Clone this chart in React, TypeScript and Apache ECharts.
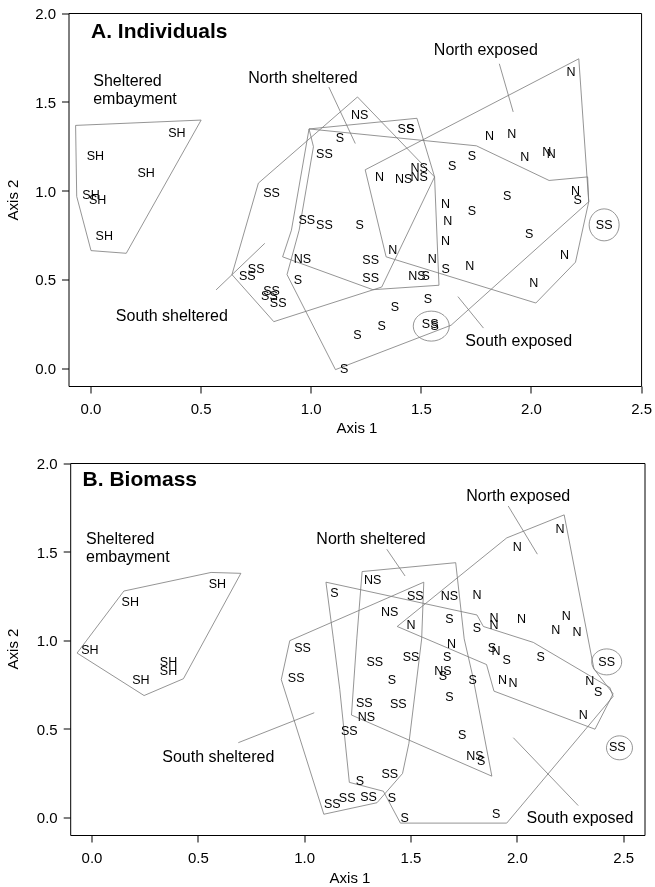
import React, { useEffect, useRef } from "react";
import * as echarts from "echarts";

const FONT = "'Liberation Sans', Arial, Helvetica, sans-serif";
const GRAY = "#7a7a7a";

// ---------- Panel A: Individuals ----------
const aSH = [[0.39,1.33],[0.02,1.20],[0.25,1.10],[0.00,0.98],[0.03,0.95],[0.06,0.75]];
const aSS = [[0.82,0.99],[1.06,1.21],[1.43,1.35],[0.98,0.84],[1.06,0.81],[1.27,0.61],[1.27,0.51],[0.75,0.56],[0.71,0.52],[0.82,0.44],[0.81,0.41],[0.85,0.37],[1.54,0.25],[2.33,0.81]];
const aNS = [[1.22,1.43],[1.42,1.07],[1.49,1.13],[1.49,1.08],[0.96,0.62],[1.48,0.52]];
const aN = [[2.18,1.67],[1.81,1.31],[1.91,1.32],[1.97,1.19],[2.07,1.22],[2.09,1.21],[2.20,1.00],[1.31,1.08],[1.61,0.93],[1.62,0.83],[1.61,0.72],[2.15,0.64],[2.01,0.48],[1.72,0.58],[1.55,0.62],[1.37,0.67]];
const aS = [[1.45,1.35],[1.13,1.30],[1.73,1.20],[1.64,1.14],[2.21,0.95],[1.89,0.97],[1.73,0.89],[1.99,0.76],[1.22,0.81],[0.94,0.50],[1.61,0.56],[1.52,0.52],[1.53,0.39],[1.38,0.35],[1.32,0.24],[1.21,0.19],[1.56,0.24],[1.15,0.00]];

const aHullSH = [[-0.07,1.37],[0.50,1.40],[0.16,0.65],[0.00,0.665],[-0.065,0.97]];
const aHullSS = [[1.21,1.53],[1.56,1.08],[1.32,0.46],[0.83,0.265],[0.64,0.53],[0.76,1.045]];
const aHullNS = [[0.99,1.35],[1.48,1.41],[1.56,1.08],[1.58,0.47],[1.28,0.445],[0.87,0.63],[0.91,0.78]];
const aHullS = [[0.99,1.35],[1.75,1.255],[2.08,1.06],[2.255,1.08],[2.26,0.94],[1.635,0.245],[1.11,-0.005],[0.89,0.53],[0.945,0.78],[1.01,1.25]];
const aHullN = [[1.245,1.12],[2.215,1.745],[2.26,0.94],[2.20,0.60],[2.02,0.37],[1.34,0.63]];

const aCircles = [[2.33,0.81],[1.545,0.24]];
const aLeaders = [
  [[1.08,1.586],[1.20,1.268]],
  [[1.854,1.717],[1.917,1.446]],
  [[0.568,0.444],[0.789,0.706]],
  [[1.666,0.406],[1.782,0.229]],
];
const aNoteText = ["North sheltered","North exposed","South sheltered","South exposed"];
const aNotePos = [[0.962,1.642],[1.793,1.796],[0.367,0.298],[1.942,0.159]];
const aEmbText = ["Sheltered","embayment"];
const aEmbPos = [[0.01,1.624],[0.01,1.522]];
const aTitle = "A. Individuals";
const aTitlePos = [[0.0,1.904]];

// ---------- Panel B: Biomass ----------
const bSH = [[0.59,1.32],[0.18,1.22],[-0.01,0.95],[0.23,0.78],[0.36,0.88],[0.36,0.83]];
const bSS = [[1.52,1.25],[0.99,0.96],[0.96,0.79],[1.33,0.88],[1.50,0.91],[1.28,0.65],[1.44,0.64],[1.21,0.49],[1.40,0.25],[1.13,0.08],[1.20,0.11],[1.30,0.12],[2.42,0.88],[2.47,0.40]];
const bNS = [[1.32,1.34],[1.68,1.25],[1.40,1.16],[1.65,0.83],[1.29,0.57],[1.80,0.35]];
const bN = [[2.20,1.63],[2.00,1.53],[1.81,1.26],[1.50,1.09],[1.89,1.13],[1.89,1.09],[2.02,1.12],[2.23,1.14],[2.18,1.06],[2.28,1.05],[1.69,0.98],[1.90,0.94],[1.93,0.78],[1.98,0.76],[2.34,0.77],[2.31,0.58]];
const bS = [[1.14,1.27],[1.68,1.12],[1.81,1.07],[1.67,0.91],[1.88,0.96],[1.95,0.89],[2.11,0.91],[1.65,0.80],[1.41,0.78],[1.79,0.78],[2.38,0.71],[1.68,0.68],[1.74,0.47],[1.83,0.32],[1.26,0.21],[1.41,0.11],[1.47,0.00],[1.90,0.02]];

const bHullSH = [[0.15,1.28],[0.56,1.385],[0.70,1.38],[0.43,0.785],[0.245,0.69],[-0.07,0.93]];
const bHullSS = [[0.93,1.00],[1.56,1.33],[1.55,1.01],[1.49,0.42],[1.46,0.25],[1.34,0.085],[1.09,0.02],[0.89,0.78]];
const bHullNS = [[1.27,1.39],[1.71,1.44],[1.75,1.01],[1.79,0.80],[1.88,0.235],[1.22,0.58],[1.245,1.01]];
const bHullN = [[1.435,1.08],[1.95,1.58],[2.22,1.71],[2.36,0.84],[2.45,0.70],[2.365,0.50],[1.89,0.715],[1.855,0.865]];
const bHullS = [[1.10,1.33],[1.81,1.145],[1.84,1.08],[2.075,0.99],[2.435,0.735],[2.45,0.685],[1.95,-0.03],[1.45,-0.03],[1.37,0.15],[1.21,0.20],[1.165,0.725],[1.135,1.01]];

const bCircles = [[2.42,0.88],[2.48,0.395]];
const bLeaders = [
  [[1.957,1.760],[2.094,1.488]],
  [[1.386,1.516],[1.472,1.365]],
  [[0.688,0.424],[1.045,0.593]],
  [[1.981,0.452],[2.286,0.069]],
];
const bNoteText = ["North exposed","North sheltered","South sheltered","South exposed"];
const bNotePos = [[2.004,1.817],[1.312,1.576],[0.594,0.348],[2.294,0.0]];
const bEmbText = ["Sheltered","embayment"];
const bEmbPos = [[-0.028,1.576],[-0.028,1.475]];
const bTitle = "B. Biomass";
const bTitlePos = [[-0.044,1.915]];

const xTicksA = [0, 0.5, 1, 1.5, 2, 2.5];
const xTicksB = [0, 0.5, 1, 1.5, 2, 2.5];
const yTicks = [0, 0.5, 1, 1.5, 2];
const AXIS_MIN = -0.1;

function textSeries(gi: number, pts: number[][], labels: string[] | string, size: number, bold = false, align = "center") {
  return {
    type: "custom",
    xAxisIndex: gi,
    yAxisIndex: gi,
    silent: true,
    clip: false,
    z: 5,
    data: pts,
    encode: { x: 0, y: 1 },
    renderItem: (params: any, api: any) => {
      const c = api.coord([api.value(0), api.value(1)]);
      const t = Array.isArray(labels) ? labels[params.dataIndex] : labels;
      return {
        type: "text",
        x: c[0],
        y: c[1],
        style: {
          text: t,
          fill: "#000",
          fontSize: size,
          fontFamily: FONT,
          fontWeight: bold ? "bold" : "normal",
          align,
          verticalAlign: "middle",
        },
      };
    },
  };
}

function lineSeries(gi: number, pts: number[][], closed: boolean) {
  return {
    type: "line",
    xAxisIndex: gi,
    yAxisIndex: gi,
    data: closed ? [...pts, pts[0]] : pts,
    symbol: "none",
    showSymbol: false,
    silent: true,
    z: 2,
    lineStyle: { color: GRAY, width: 0.8 },
  };
}

function circleSeries(gi: number, centers: number[][], radii: number[][]) {
  return {
    type: "custom",
    xAxisIndex: gi,
    yAxisIndex: gi,
    silent: true,
    z: 3,
    data: centers,
    encode: { x: 0, y: 1 },
    renderItem: (params: any, api: any) => {
      const c = api.coord([api.value(0), api.value(1)]);
      const r = radii[params.dataIndex];
      return {
        type: "ellipse",
        shape: { cx: c[0], cy: c[1], rx: r[0], ry: r[1] },
        style: { fill: "none", stroke: GRAY, lineWidth: 0.8 },
      };
    },
  };
}

function xAxis(gi: number, max: number, ticks: number[]) {
  return {
    type: "value",
    gridIndex: gi,
    position: "bottom",
    min: AXIS_MIN,
    max,
    axisLine: { show: false, onZero: false },
    splitLine: { show: false },
    axisTick: { show: false },
    axisLabel: { customValues: ticks, formatter: (v: number) => v.toFixed(1), fontSize: 15, color: "#000", margin: 14, fontFamily: FONT },
  };
}

function yAxis(gi: number) {
  return {
    type: "value",
    gridIndex: gi,
    position: "left",
    min: AXIS_MIN,
    max: 2.0,
    axisLine: { show: false, onZero: false },
    splitLine: { show: false },
    axisTick: { show: false },
    axisLabel: { customValues: yTicks, formatter: (v: number) => v.toFixed(1), fontSize: 15, color: "#000", margin: 13, fontFamily: FONT },
  };
}

function panelSeries(gi: number, p: any) {
  const s: any[] = [];
  p.hulls.forEach((h: number[][]) => s.push(lineSeries(gi, h, true)));
  p.leaders.forEach((l: number[][]) => s.push(lineSeries(gi, l, false)));
  s.push(circleSeries(gi, p.circles, p.radii));
  s.push(textSeries(gi, p.SH, "SH", 12.5));
  s.push(textSeries(gi, p.SS, "SS", 12.5));
  s.push(textSeries(gi, p.NS, "NS", 12.5));
  s.push(textSeries(gi, p.N, "N", 12.5));
  s.push(textSeries(gi, p.S, "S", 12.5));
  s.push(textSeries(gi, p.notePos, p.noteText, 16));
  s.push(textSeries(gi, p.embPos, p.embText, 16, false, "left"));
  s.push(textSeries(gi, p.titlePos, p.title, 21, true, "left"));
  return s;
}

const axisTitle = (text: string, x: number, y: number, rot = 0) => ({
  type: "text",
  x,
  y,
  rotation: rot,
  style: { text, fontSize: 15, fontFamily: FONT, fill: "#000", align: "center", verticalAlign: "middle" },
});

export default function App() {
  const ref = useRef<HTMLDivElement>(null);
  useEffect(() => {
    if (!ref.current) return;
    const chart = echarts.init(ref.current, undefined, { renderer: "svg" });
    const series = [
      ...panelSeries(0, {
        hulls: [aHullSH, aHullSS, aHullNS, aHullS, aHullN],
        leaders: aLeaders,
        circles: aCircles,
        radii: [[15, 16], [18, 15]],
        SH: aSH, SS: aSS, NS: aNS, N: aN, S: aS,
        notePos: aNotePos, noteText: aNoteText,
        embPos: aEmbPos, embText: aEmbText,
        titlePos: aTitlePos, title: aTitle,
      }),
      ...panelSeries(1, {
        hulls: [bHullSH, bHullSS, bHullNS, bHullN, bHullS],
        leaders: bLeaders,
        circles: bCircles,
        radii: [[15, 13], [13, 12]],
        SH: bSH, SS: bSS, NS: bNS, N: bN, S: bS,
        notePos: bNotePos, noteText: bNoteText,
        embPos: bEmbPos, embText: bEmbText,
        titlePos: bTitlePos, title: bTitle,
      }),
    ];
    chart.setOption({
      animation: false,
      backgroundColor: "#fff",
      grid: [
        { left: 69, top: 13.5, width: 576, height: 373, show: true, borderColor: "#000", borderWidth: 1, backgroundColor: "transparent" },
        { left: 70.7, top: 463.5, width: 574.3, height: 372, show: true, borderColor: "#000", borderWidth: 1, backgroundColor: "transparent" },
      ],
      xAxis: [xAxis(0, 2.5, xTicksA), xAxis(1, 2.6, xTicksB)],
      yAxis: [yAxis(0), yAxis(1)],
      series,
    });

    // outward tick marks, positioned through the chart's own axis scales
    const graphics: any[] = [
      axisTitle("Axis 1", 357, 427),
      axisTitle("Axis 1", 350, 877),
      axisTitle("Axis 2", 12.5, 200, Math.PI / 2),
      axisTitle("Axis 2", 12.5, 649, Math.PI / 2),
    ];
    const tickSets = [xTicksA, xTicksB];
    [0, 1].forEach((gi) => {
      tickSets[gi].forEach((v) => {
        const p = chart.convertToPixel({ xAxisIndex: gi, yAxisIndex: gi }, [v, AXIS_MIN]) as number[];
        graphics.push({ type: "rect", silent: true, z: 10, shape: { x: Math.round(p[0]) - 0.5, y: p[1], width: 1, height: 7 }, style: { fill: "#000" } });
      });
      yTicks.forEach((v) => {
        const p = chart.convertToPixel({ xAxisIndex: gi, yAxisIndex: gi }, [AXIS_MIN, v]) as number[];
        graphics.push({ type: "rect", silent: true, z: 10, shape: { x: p[0] - 7, y: Math.round(p[1]) - 0.5, width: 7, height: 1 }, style: { fill: "#000" } });
      });
    });
    chart.setOption({ graphic: graphics });
    return () => chart.dispose();
  }, []);
  return <div ref={ref} style={{ position: "absolute", left: 0, top: 0, width: 655, height: 887, filter: "grayscale(1)" }} />;
}
